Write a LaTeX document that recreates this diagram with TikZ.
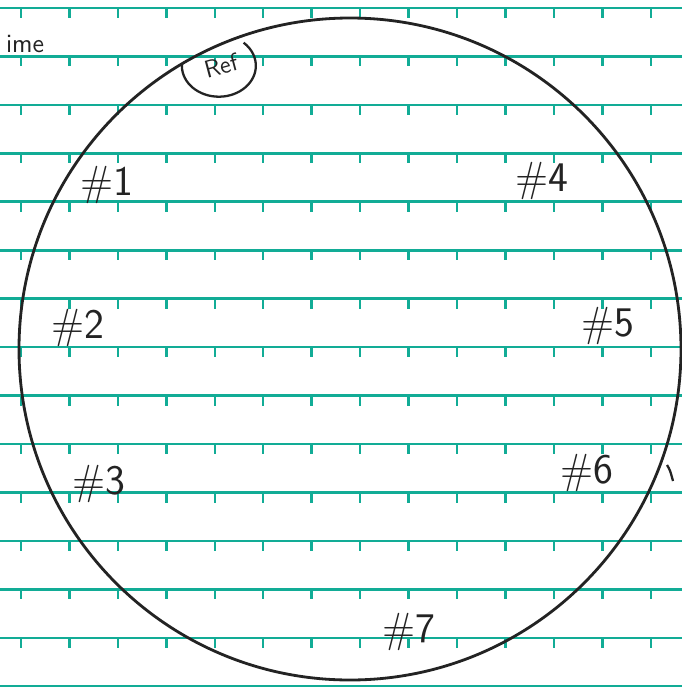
\documentclass[tikz,border=0pt]{standalone}
\usepackage{tikz}
\usetikzlibrary{arrows.meta, positioning, calc}
\definecolor{ruleteal}{RGB}{18,172,150}
\definecolor{inkblack}{RGB}{35,35,35}

\begin{document}
\begin{tikzpicture}[
  x=0.02cm, y=-0.02cm,
  rule/.style={ruleteal, line width=1.5pt},
  tick/.style={ruleteal, line width=1.4pt},
  ink/.style={inkblack, line width=1.6pt},
  well/.style={font=\sffamily\fontsize{24}{26}\selectfont, text=inkblack, inner sep=1pt},
  note/.style={font=\sffamily\fontsize{15}{17}\selectfont, text=inkblack, inner sep=1pt}
]
\useasboundingbox[fill=white] (0,0) rectangle (682,687);

% ---- Ruled paper ----
\foreach \k in {0,...,14} {
  \draw[rule] (0,{8+48.45*\k}) -- (682,{8+48.45*\k});
  \foreach \j in {0,...,13}
    \draw[tick] ({21+48.45*\j},{8+48.45*\k}) -- ++(0,10);
}

% ---- Dish outline ----
\coordinate (centre) at (350,349);
\draw[ink] (centre) circle[radius=331];

% ---- Reference mark ----
\node[note, font=\sffamily\fontsize{14}{16}\selectfont, rotate=15] (ref) at (221,66) {Ref};
\draw[ink, line width=1.3pt] ($(ref)+(-39,-3)$) arc[start angle=185, end angle=-48, x radius=37, y radius=31];

% ---- Title (cut at the edge in the scan) ----
\node[note, anchor=base west] (title) at (4,52) {ime};

% ---- Wells ----
\node[well] (w1) at (107,185) {\#1};
\node[well] (w2) at (78,328)  {\#2};
\node[well] (w3) at (99,484)  {\#3};
\node[well] (w4) at (542,181) {\#4};
\node[well] (w5) at (608,326) {\#5};
\node[well] (w6) at (587,473) {\#6};
\node[well] (w7) at (409,632) {\#7};

% ---- stray stroke at the right edge ----
\coordinate (stray) at (667,465);
\draw[ink, line width=1.3pt] (stray) .. controls (670,470) .. (673,481);

\end{tikzpicture}
\end{document}
